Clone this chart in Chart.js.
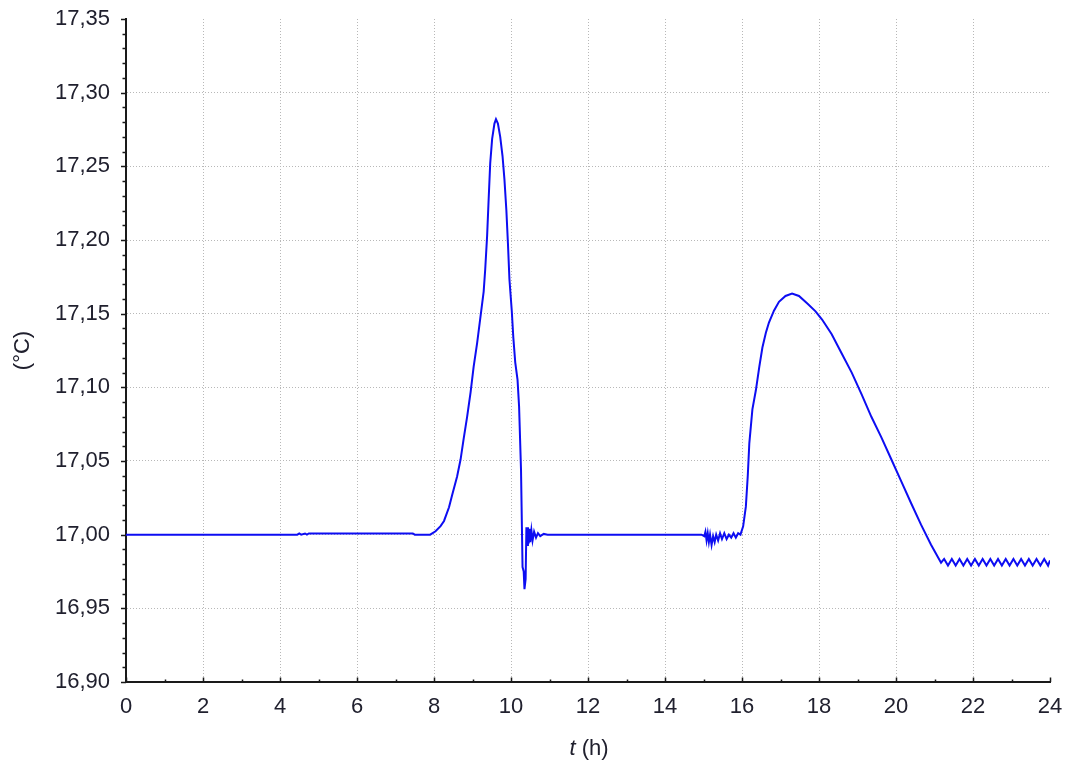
<!DOCTYPE html>
<html>
<head>
<meta charset="utf-8">
<style>
  html, body { margin: 0; padding: 0; background: #ffffff; }
  #wrap { width: 1070px; height: 765px; }
</style>
<script src="https://cdn.jsdelivr.net/npm/chart.js@4.4.1/dist/chart.umd.min.js"></script>
</head>
<body>
<div id="wrap"><canvas id="c" width="1070" height="765"></canvas></div>
<script>
// ---- data ----
const hours = [
  0, 4.45, 4.5, 4.55, 4.65, 4.7, 4.75, 7.45, 7.5, 7.9,
  8.04, 8.17, 8.26, 8.39, 8.47, 8.60, 8.69, 8.77, 8.86, 8.95,
  9.03, 9.12, 9.20, 9.29, 9.33, 9.38, 9.42, 9.46, 9.51, 9.57,
  9.61, 9.66, 9.72, 9.78, 9.83, 9.88, 9.92, 9.96, 10.02, 10.06,
  10.11, 10.17, 10.21, 10.26, 10.30, 10.33, 10.35, 10.38, 10.40, 10.42,
  10.44, 10.46, 10.48, 10.50, 10.53, 10.56, 10.60, 10.65, 10.70, 10.76,
  10.85, 10.95, 14.95, 15.02, 15.05, 15.08, 15.11, 15.14, 15.17, 15.21,
  15.25, 15.29, 15.33, 15.38, 15.43, 15.48, 15.54, 15.60, 15.66, 15.72,
  15.78, 15.84, 15.90, 15.96, 16.03, 16.10, 16.15, 16.19, 16.23, 16.27,
  16.36, 16.45, 16.53, 16.62, 16.70, 16.83, 16.96, 17.13, 17.30, 17.48,
  17.69, 17.91, 18.08, 18.33, 18.59, 18.85, 19.11, 19.36, 19.62, 19.88,
  20.14, 20.39, 20.65, 20.91, 21.17, 21.25, 21.35, 21.45, 21.55, 21.65,
  21.75, 21.85, 21.95, 22.05, 22.15, 22.25, 22.35, 22.45, 22.55, 22.65,
  22.75, 22.85, 22.95, 23.05, 23.15, 23.25, 23.35, 23.45, 23.55, 23.65,
  23.75, 23.85, 23.95, 24.0
];
const tempC = [
  17.000, 17.000, 17.0008, 17.000, 17.0008, 17.000, 17.0008, 17.0008, 17.000, 17.000,
  17.0023, 17.0058, 17.0093, 17.0186, 17.0267, 17.0395, 17.051, 17.065, 17.080, 17.0965,
  17.114, 17.130, 17.1465, 17.165, 17.180, 17.203, 17.228, 17.252, 17.2686, 17.279,
  17.282, 17.279, 17.270, 17.257, 17.241, 17.220, 17.198, 17.173, 17.152, 17.134,
  17.117, 17.105, 17.087, 17.044, 16.978, 16.975, 16.963, 16.970, 17.005, 16.993,
  17.005, 16.994, 17.004, 16.995, 17.003, 16.996, 17.002, 16.998, 17.001, 16.999,
  17.0005, 17.000, 17.000, 16.999, 17.002, 16.996, 17.001, 16.995, 17.000, 16.993,
  16.999, 16.995, 17.000, 16.996, 17.001, 16.997, 17.001, 16.997, 17.000, 16.998,
  17.001, 16.998, 17.001, 17.000, 17.0057, 17.019, 17.040, 17.062, 17.0735, 17.085,
  17.098, 17.114, 17.127, 17.137, 17.144, 17.152, 17.158, 17.162, 17.1636, 17.162,
  17.157, 17.1516, 17.146, 17.136, 17.123, 17.110, 17.095, 17.080, 17.066, 17.051,
  17.036, 17.0215, 17.0068, 16.9932, 16.981, 16.9835, 16.979, 16.9835, 16.979, 16.9835,
  16.979, 16.9835, 16.979, 16.9835, 16.979, 16.9835, 16.979, 16.9835, 16.979, 16.9835,
  16.979, 16.9835, 16.979, 16.9835, 16.979, 16.9835, 16.979, 16.9835, 16.979, 16.9835,
  16.979, 16.9835, 16.979, 16.9825
];
const xMajorTicks = [0, 2, 4, 6, 8, 10, 12, 14, 16, 18, 20, 22, 24];
const xMinorTicks = [1, 3, 5, 7, 9, 11, 13, 15, 17, 19, 21, 23];
const yMajorTicks = [16.90, 16.95, 17.00, 17.05, 17.10, 17.15, 17.20, 17.25, 17.30, 17.35];
const yMinorTicks = [16.91, 16.92, 16.93, 16.94, 16.96, 16.97, 16.98, 16.99,
  17.01, 17.02, 17.03, 17.04, 17.06, 17.07, 17.08, 17.09, 17.11, 17.12, 17.13, 17.14,
  17.16, 17.17, 17.18, 17.19, 17.21, 17.22, 17.23, 17.24, 17.26, 17.27, 17.28, 17.29,
  17.31, 17.32, 17.33, 17.34];
const xTitleItalic = 't';
const xTitleRest = ' (h)';
const yTitle = '(°C)';

// ---- chart ----
const FONT = '"Liberation Sans", Arial, sans-serif';
const FS = 22;
const LABEL_COLOR = '#20202e';
const AXIS_COLOR = '#1a1a1a';

const tickPlugin = {
  id: 'ticksAndTitle',
  afterDraw(chart) {
    const ctx = chart.ctx;
    const xs = chart.scales.x, ys = chart.scales.y;
    const left = chart.chartArea.left, bottom = chart.chartArea.bottom;
    ctx.save();
    ctx.strokeStyle = AXIS_COLOR;
    ctx.lineWidth = 1.5;
    ctx.beginPath();
    yMajorTicks.forEach(v => { const p = Math.round(ys.getPixelForValue(v)) + 0.5; ctx.moveTo(left - 5, p); ctx.lineTo(left, p); });
    yMinorTicks.forEach(v => { const p = Math.round(ys.getPixelForValue(v)) + 0.5; ctx.moveTo(left - 3.5, p); ctx.lineTo(left, p); });
    xMajorTicks.forEach(v => { const p = Math.round(xs.getPixelForValue(v)) + 0.5; ctx.moveTo(p, bottom); ctx.lineTo(p, bottom - 4.5); });
    xMinorTicks.forEach(v => { const p = Math.round(xs.getPixelForValue(v)) + 0.5; ctx.moveTo(p, bottom); ctx.lineTo(p, bottom - 2.5); });
    ctx.stroke();
    // x axis title with italic t
    ctx.fillStyle = LABEL_COLOR;
    ctx.textBaseline = 'middle';
    ctx.textAlign = 'left';
    const fItal = 'italic ' + FS + 'px ' + FONT, fReg = FS + 'px ' + FONT;
    ctx.font = fItal; const w1 = ctx.measureText(xTitleItalic).width;
    ctx.font = fReg; const w2 = ctx.measureText(xTitleRest).width;
    const cx = (chart.chartArea.left + chart.chartArea.right) / 2 + 1;
    const x0 = cx - (w1 + w2) / 2;
    ctx.font = fItal; ctx.fillText(xTitleItalic, x0, 749);
    ctx.font = fReg; ctx.fillText(xTitleRest, x0 + w1, 749);
    ctx.restore();
  }
};

new Chart(document.getElementById('c'), {
  type: 'line',
  data: {
    datasets: [{
      data: hours.map((h, i) => ({ x: h, y: tempC[i] })),
      borderColor: '#0d0df2',
      borderWidth: 2,
      pointRadius: 0,
      tension: 0,
      fill: false
    }]
  },
  options: {
    responsive: false,
    animation: false,
    devicePixelRatio: 1,
    layout: { padding: { top: 19, right: 20, left: 0, bottom: 0 } },
    plugins: { legend: { display: false }, tooltip: { enabled: false } },
    scales: {
      x: {
        type: 'linear',
        min: 0, max: 24,
        afterBuildTicks: s => { s.ticks = xMajorTicks.map(v => ({ value: v })); },
        afterFit: s => { s.height = 83; s.paddingLeft = 0; s.paddingRight = 0; },
        ticks: { color: LABEL_COLOR, font: { family: FONT, size: FS }, padding: 12, maxRotation: 0, autoSkip: false },
        grid: {
          drawTicks: false,
          lineWidth: 1,
          color: c => (c.tick && c.tick.value === 24) ? 'rgba(0,0,0,0)' : '#b8b8b8'
        },
        border: { display: true, color: AXIS_COLOR, width: 2, dash: [1, 2] }
      },
      y: {
        min: 16.9, max: 17.35,
        afterBuildTicks: s => { s.ticks = yMajorTicks.map(v => ({ value: v })); },
        afterFit: s => { s.width = 126; s.paddingTop = 0; s.paddingBottom = 0; },
        ticks: {
          color: LABEL_COLOR, font: { family: FONT, size: FS }, padding: 16,
          callback: v => Number(v).toFixed(2).replace('.', ',')
        },
        grid: {
          drawTicks: false,
          lineWidth: 1,
          color: c => (c.tick && Math.abs(c.tick.value - 17.35) < 1e-6) ? 'rgba(0,0,0,0)' : '#b8b8b8'
        },
        border: { display: true, color: AXIS_COLOR, width: 2, dash: [1, 2] },
        title: {
          display: true, text: yTitle, color: LABEL_COLOR,
          font: { family: FONT, size: FS }, padding: { top: 10, bottom: 0 }
        }
      }
    }
  },
  plugins: [tickPlugin]
});
</script>
</body>
</html>
